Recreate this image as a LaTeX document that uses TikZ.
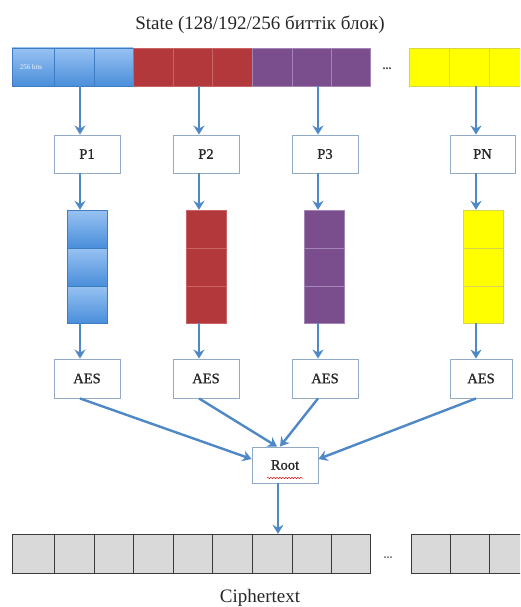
\documentclass[tikz,border=0pt]{standalone}
\usepackage{fontspec}
\setmainfont{Liberation Serif}
\newfontfamily\boxfont[FakeBold=1]{Liberation Serif}
\usetikzlibrary{arrows.meta,decorations.pathmorphing}
\definecolor{blueL}{HTML}{97C2F2}
\definecolor{blueD}{HTML}{4A8EDA}
\definecolor{blueE}{HTML}{3E7DC2}
\definecolor{redF}{HTML}{B3383B}
\definecolor{redS}{HTML}{C96466}
\definecolor{purF}{HTML}{7A4E8C}
\definecolor{purS}{HTML}{A585B8}
\definecolor{yelF}{HTML}{FFFF00}
\definecolor{yelS}{HTML}{D6D64A}
\definecolor{greyF}{HTML}{D9D9D9}
\definecolor{greyE}{HTML}{3A3A3A}
\definecolor{boxE}{HTML}{93AAC6}
\definecolor{arrC}{HTML}{4F88C6}
\begin{document}
\begin{tikzpicture}[x=1pt,y=-1pt,
  pbox/.style={draw=boxE, line width=0.9pt, fill=white, minimum width=66pt, minimum height=38pt, inner sep=0pt, font=\boxfont\fontsize{14.5}{16}\selectfont, text=black!85},
  colbox/.style={minimum width=40pt, minimum height=113pt, inner sep=0pt},
  arr/.style={draw=arrC, line width=2.4pt, -{Stealth[length=9pt,width=11pt,inset=3pt]}},
  bigtext/.style={font=\fontsize{19}{22}\selectfont, text=black!85},
  dots/.style={font=\fontsize{12}{12}\selectfont\bfseries, text=black!75}]
\useasboundingbox (0,0) rectangle (520,607);
\clip (0,0) rectangle (520,607);

% title
\node[bigtext] (title) at (260,25) {State (128/192/256 биттік блок)};

% state bar
\foreach \a/\b in {12/54,54/94,94/133}
  \shade[top color=blueL, bottom color=blueD, draw=blueE, line width=0.5pt] (\a,48) rectangle (\b,86);
\foreach \a/\b in {133/173,173/212,212/252}
  \filldraw[fill=redF, draw=redS, line width=0.6pt] (\a,48) rectangle (\b,86);
\foreach \a/\b in {252/292,292/331,331/370}
  \filldraw[fill=purF, draw=purS, line width=0.6pt] (\a,48) rectangle (\b,86);
\foreach \a/\b in {409/449,449/489,489/529}
  \filldraw[fill=yelF, draw=yelS, line width=0.5pt] (\a,48) rectangle (\b,86);
\node[font=\fontsize{7}{8}\selectfont, text=white!90!blueL] (bits) at (31,67) {256 bits};
\node[dots] (dtop) at (387,69) {...};

\coordinate (s1) at (80,86);
\coordinate (s2) at (199,86);
\coordinate (s3) at (318,86);
\coordinate (s4) at (476,86);

% P boxes
\node[pbox] (p1) at (87,154) {P1};
\node[pbox] (p2) at (206,154) {P2};
\node[pbox] (p3) at (325,154) {P3};
\node[pbox, minimum width=65pt] (pn) at (482.5,154) {PN};

% columns
\node[colbox] (c1) at (87,266.5) {};
\node[colbox] (c2) at (206,266.5) {};
\node[colbox] (c3) at (324.5,266.5) {};
\node[colbox] (c4) at (483,266.5) {};
\foreach \t/\u in {210/248,248/286,286/323}
  \shade[top color=blueL, bottom color=blueD, draw=blueE, line width=0.5pt] (67,\t) rectangle (107,\u);
\foreach \t/\u in {210/248,248/286,286/323}
  \filldraw[fill=redF, draw=redS, line width=0.6pt] (186,\t) rectangle (226,\u);
\foreach \t/\u in {210/248,248/286,286/323}
  \filldraw[fill=purF, draw=purS, line width=0.6pt] (304.5,\t) rectangle (344.5,\u);
\foreach \t/\u in {210/248,248/286,286/323}
  \filldraw[fill=yelF, draw=yelS, line width=0.5pt] (463,\t) rectangle (503,\u);

% AES boxes
\node[pbox, minimum height=39pt] (a1) at (87,378.5) {AES};
\node[pbox, minimum height=39pt] (a2) at (206,378.5) {AES};
\node[pbox, minimum height=39pt] (a3) at (325,378.5) {AES};
\node[pbox, minimum height=39pt, minimum width=62pt] (a4) at (481,378.5) {AES};

% root
\node[pbox, minimum height=36pt] (root) at (285,465) {Root};
\draw[red!85!black, line width=0.5pt, decorate, decoration={snake, amplitude=0.6pt, segment length=3pt}] (267,478) -- (303,478);

% ciphertext bar
\foreach \a/\b in {12/54,54/94,94/133,133/173,173/212,212/252,252/292,292/331,331/370}
  \filldraw[fill=greyF, draw=greyE, line width=0.7pt] (\a,534) rectangle (\b,573);
\foreach \a/\b in {411/450,450/489,489/529}
  \filldraw[fill=greyF, draw=greyE, line width=0.7pt] (\a,534) rectangle (\b,573);
\node[minimum width=358pt, minimum height=39pt, inner sep=0pt] (ct) at (191,553.5) {};
\node[dots, text=black!55] (dbot) at (388,558) {...};
\node[bigtext] (ctl) at (260,598) {Ciphertext};

% arrows
\draw[arr] (s1) -- (s1 |- p1.north);
\draw[arr] (s2) -- (s2 |- p2.north);
\draw[arr] (s3) -- (s3 |- p3.north);
\draw[arr] (s4) -- (s4 |- pn.north);
\draw[arr] (p1.south -| s1) -- (c1.north -| s1);
\draw[arr] (p2.south -| s2) -- (c2.north -| s2);
\draw[arr] (p3.south -| s3) -- (c3.north -| s3);
\draw[arr] (pn.south -| s4) -- (c4.north -| s4);
\draw[arr] (c1.south -| s1) -- (a1.north -| s1);
\draw[arr] (c2.south -| s2) -- (a2.north -| s2);
\draw[arr] (c3.south -| s3) -- (a3.north -| s3);
\draw[arr] (c4.south -| s4) -- (a4.north -| s4);
\draw[arr] (a1.south -| s1) -- ([yshift=6pt]root.west);
\draw[arr] (a2.south -| s2) -- ([xshift=-8pt]root.north);
\draw[arr] (a3.south -| s3) -- ([xshift=-5pt]root.north);
\draw[arr] (a4.south -| s4) -- ([yshift=6pt]root.east);
\coordinate (rx) at (278,483);
\draw[arr] (rx) -- (rx |- ct.north);
\end{tikzpicture}
\end{document}
